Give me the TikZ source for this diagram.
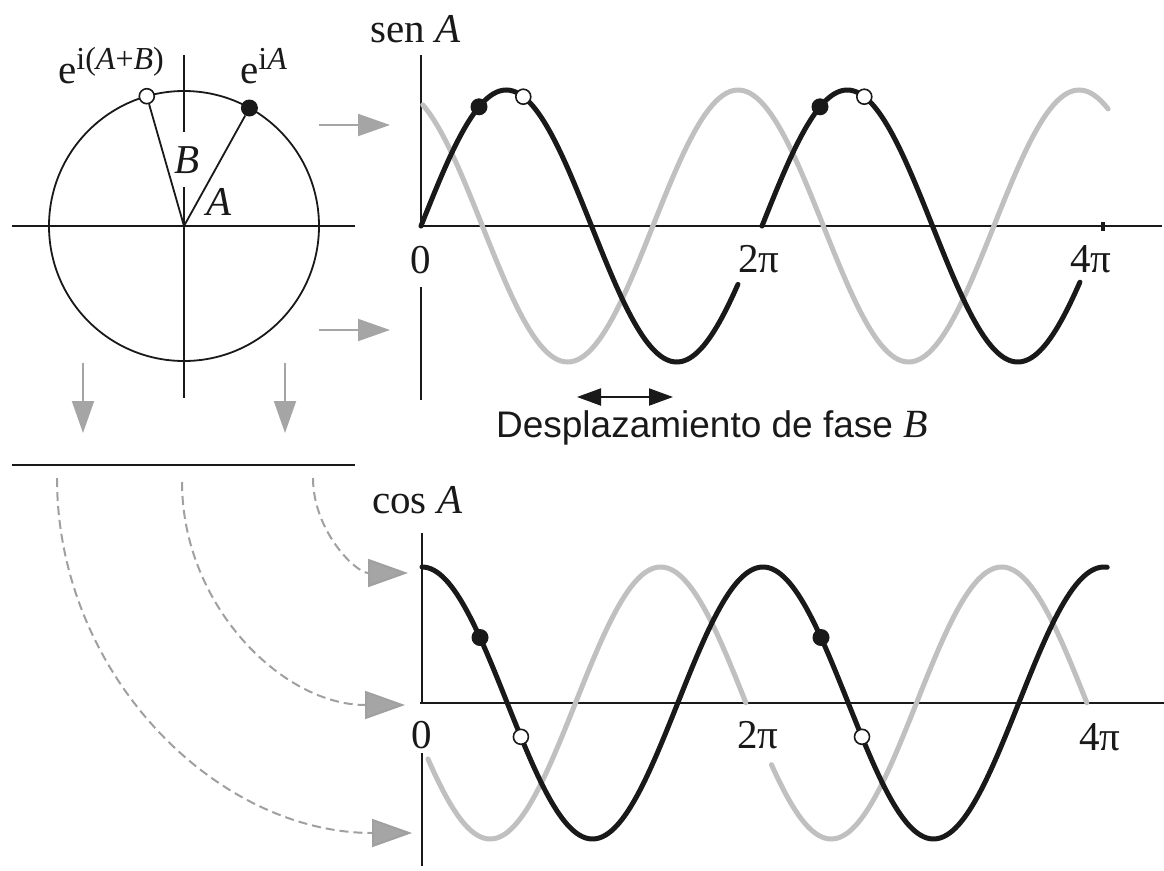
\documentclass[tikz,border=0pt]{standalone}
\usepackage{fontspec}
\setmainfont{Liberation Serif}
\newfontfamily\sansf{Liberation Sans}
\usetikzlibrary{arrows.meta}
\definecolor{ink}{RGB}{25,25,25}
\definecolor{curvegray}{RGB}{192,192,192}
\definecolor{arrgray}{RGB}{165,165,165}
\definecolor{dashgray}{RGB}{160,160,160}
\begin{document}
\begin{tikzpicture}[x=1pt,y=-1pt,
  lbl/.style={inner sep=0pt, font=\fontsize{41}{48}\selectfont, text=ink},
  axisline/.style={line width=2pt, draw=ink},
  thinline/.style={line width=1.8pt, draw=ink},
  blackcurve/.style={line width=5pt, draw=ink, line cap=round},
  graycurve/.style={line width=5pt, draw=curvegray, line cap=round},
  bdot/.style={circle, fill=ink, minimum size=17pt, inner sep=0pt},
  wdot/.style={circle, draw=ink, fill=white, line width=1.6pt, minimum size=15pt, inner sep=0pt},
  grayarrow/.style={draw=arrgray, line width=2pt, -{Triangle[length=32pt,width=22pt,fill=arrgray]}},
  dasharrow/.style={draw=dashgray, line width=2pt, dash pattern=on 9pt off 5pt, -{Triangle[length=40pt,width=28pt,fill=arrgray]}},
  shiftarrow/.style={draw=ink, line width=2pt, {Triangle[length=24pt,width=17pt]}-{Triangle[length=24pt,width=17pt]}}
]
\useasboundingbox[fill=white] (0,0) rectangle (1164,870);

% ---------- circle ----------
\coordinate (O) at (184,226);
\draw[thinline] (O) circle[radius=135];
\draw[axisline] (12,226) -- (355,226);
\draw[axisline] (184,55) -- (184,132);
\draw[axisline] (184,187) -- (184,398);
\node[bdot] (eA) at (249.4,108) {};
\node[wdot] (eAB) at (146.8,96.2) {};
\draw[thinline] (O) -- (eA);
\draw[thinline] (O) -- (eAB);
\node[lbl, anchor=base] (labB) at (187,173) {\textit{B}};
\node[lbl, anchor=base] (labA) at (219,215) {\textit{A}};
\node[lbl, anchor=base west] (labeAB) at (58,83) {e\raisebox{14pt}{\fontsize{32}{36}\selectfont i(\textit{A}+\textit{B})}};
\node[lbl, anchor=base west] (labeA) at (240,83) {e\raisebox{14pt}{\fontsize{32}{36}\selectfont i\textit{A}}};

% ---------- straight gray arrows ----------
\coordinate (r1s) at (319,125); \coordinate (r1e) at (390,125);
\coordinate (r2s) at (319,330); \coordinate (r2e) at (390,330);
\coordinate (d1s) at (83,363);  \coordinate (d1e) at (83,433);
\coordinate (d2s) at (285,363); \coordinate (d2e) at (285,433);
\draw[grayarrow] (r1s) -- (r1e);
\draw[grayarrow] (r2s) -- (r2e);
\draw[grayarrow] (d1s) -- (d1e);
\draw[grayarrow] (d2s) -- (d2e);

% separator line
\draw[axisline] (12,465) -- (355,465);

% ---------- dashed arcs ----------
\coordinate (a1s) at (313,478); \coordinate (a1e) at (408,573);
\coordinate (a2s) at (182,482); \coordinate (a2e) at (405,705);
\coordinate (a3s) at (57,478);  \coordinate (a3e) at (412,833);
\draw[dasharrow] (a1s) .. controls (313,530.5) and (355.5,573) .. (a1e);
\draw[dasharrow] (a2s) .. controls (182,605) and (282,705) .. (a2e);
\draw[dasharrow] (a3s) .. controls (57,674) and (216,833) .. (a3e);

% ---------- sine graph ----------
\draw[axisline] (421,55) -- (421,226);
\draw[axisline] (421,287) -- (421,400);
\draw[axisline] (419,226) -- (1162,226);
\draw[line width=3.5pt, draw=ink] (1103,222) -- (1103,231);
\draw[graycurve] plot[domain=0.0314:12.661, samples=200, variable=\t] ({421+\t*341/(2*pi)},{226-136*sin(deg(\t)+115.2)});
\draw[blackcurve] plot[domain=0:5.840, samples=120, variable=\t] ({421+\t*341/(2*pi)},{226-136*sin(deg(\t))});
\draw[blackcurve] plot[domain=6.2832:12.142, samples=120, variable=\t] ({421+\t*341/(2*pi)},{226-136*sin(deg(\t))});
\node[bdot] (s1) at (479,106.8) {};
\node[wdot] (s2) at (523.3,96.7) {};
\node[bdot] (s3) at (820,106.8) {};
\node[wdot] (s4) at (864.3,96.7) {};
\node[lbl, anchor=base west] (senA) at (370,42) {sen \textit{A}};
\node[lbl, anchor=base] (s0) at (421,273) {0};
\node[lbl, anchor=base] (s2pi) at (759,272) {2π};
\node[lbl, anchor=base] (s4pi) at (1091,272) {4π};

% phase shift
\coordinate (ps1) at (577,397); \coordinate (ps2) at (673,397);
\draw[shiftarrow] (ps1) -- (ps2);
\node[inner sep=0pt, anchor=base east, text=ink] (shift) at (928,437) {\sansf\fontsize{37}{44}\selectfont Desplazamiento de fase {\rmfamily\fontsize{40}{44}\selectfont\textit{B}}};

% ---------- cosine graph ----------
\draw[axisline] (422,533) -- (422,703);
\draw[axisline] (422,753) -- (422,866);
\draw[axisline] (420,703) -- (1164,703);
\draw[graycurve] plot[domain=0.11:5.969, samples=120, variable=\t] ({422+\t*341/(2*pi)},{703-136*cos(deg(\t)+108)});
\draw[graycurve] plot[domain=6.440:12.252, samples=120, variable=\t] ({422+\t*341/(2*pi)},{703-136*cos(deg(\t)+108)});
\draw[blackcurve] plot[domain=0:12.629, samples=240, variable=\t] ({422+\t*341/(2*pi)},{703-136*cos(deg(\t))});
\node[bdot] (c1) at (480,637.5) {};
\node[wdot] (c2) at (520.9,736.8) {};
\node[bdot] (c3) at (821,637.5) {};
\node[wdot] (c4) at (862,736.8) {};
\node[lbl, anchor=base west] (cosA) at (372,513) {cos \textit{A}};
\node[lbl, anchor=base] (c0) at (422,748) {0};
\node[lbl, anchor=base] (c2pi) at (758,748) {2π};
\node[lbl, anchor=base] (c4pi) at (1100,750) {4π};
\end{tikzpicture}
\end{document}
